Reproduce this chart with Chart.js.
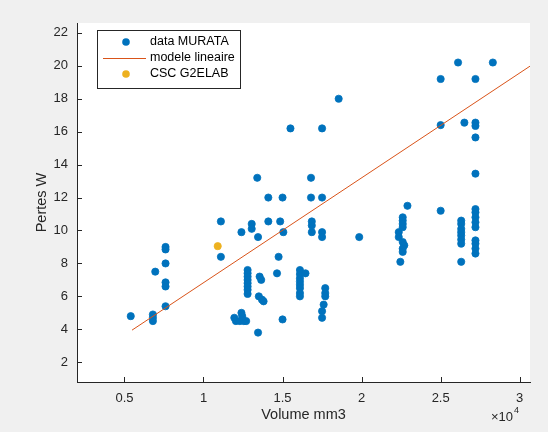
<!DOCTYPE html>
<html>
<head>
<meta charset="utf-8">
<script src="https://cdn.jsdelivr.net/npm/chart.js@4/dist/chart.umd.min.js"></script>
<style>
  html, body { margin: 0; padding: 0; background: #f0f0f0; }
  canvas { display: block; }
</style>
</head>
<body>
<canvas id="chart" width="548" height="432"></canvas>
<script>
// data MURATA: volume (mm3) and losses (W)
const muratX = [
  5400, 6800, 6800, 6800, 6950,
  7600, 7600, 7600, 7600, 7600, 7600,
  11100, 11100, 12400, 13050, 13050, 13450, 14100, 14850, 14750, 14650,
  13400, 14100, 15000, 16800, 17500, 16800,
  15500, 17500, 18550, 15050, 16850, 16850, 16850, 17500, 17500, 19850,
  12790, 12790, 12790, 12790, 12790, 12790, 12790, 12790,
  13550, 13650, 13500, 13700, 13800,
  11950, 12050, 12300, 12550, 12700, 12400, 12450, 13450, 15000,
  16100, 16100, 16100, 16100, 16100, 16100, 16100, 16100, 16450,
  17700, 17700, 17700, 17600, 17500, 17500,
  22900, 22600, 22600, 22600, 22600, 22350, 22350, 22600, 22700, 22600, 22600, 22450,
  26300, 26300, 26300, 26300, 26300, 26300, 26300, 26300,
  27200, 27200, 27200, 27200, 27200, 27200, 27200, 27200, 27200,
  26100, 28300, 25000, 27200, 25000, 26500, 27200, 27200, 27200, 27200, 25000
];
const muratY = [
  4.8, 4.9, 4.7, 4.5, 7.5,
  9.0, 8.85, 8.0, 6.85, 6.6, 5.4,
  10.55, 8.4, 9.9, 10.4, 10.1, 9.6, 10.55, 10.55, 8.4, 7.4,
  13.2, 12.0, 12.0, 12.0, 12.0, 13.2,
  16.2, 16.2, 18.0, 9.9, 10.55, 10.3, 9.9, 9.9, 9.6, 9.6,
  7.6, 7.4, 7.2, 7.0, 6.8, 6.6, 6.4, 6.15,
  7.2, 7.0, 6.0, 5.8, 5.7,
  4.7, 4.5, 4.5, 4.5, 4.5, 5.0, 4.8, 3.8, 4.6,
  7.6, 7.35, 7.1, 6.9, 6.7, 6.5, 6.2, 6.0, 7.4,
  6.5, 6.2, 6.0, 5.5, 5.1, 4.7,
  11.5, 10.8, 10.6, 10.4, 10.2, 9.9, 9.6, 9.3, 9.1, 8.9, 8.7, 8.1,
  10.6, 10.4, 10.1, 9.9, 9.7, 9.45, 9.2, 8.1,
  11.3, 11.1, 10.8, 10.5, 10.2, 9.4, 9.2, 8.9, 8.6,
  20.2, 20.2, 19.2, 19.2, 16.4, 16.55, 16.55, 16.35, 15.65, 13.45, 11.2
];
// linear model endpoints
const fitX = [5480, 30650];
const fitY = [3.95, 19.98];
// CSC G2ELAB
const cscX = [10900];
const cscY = [9.05];

const xTickVals = [5000, 10000, 15000, 20000, 25000, 30000];
const xTickLabels = ['0.5', '1', '1.5', '2', '2.5', '3'];
const yTickVals = [2, 4, 6, 8, 10, 12, 14, 16, 18, 20, 22];

const toPoints = (xs, ys) => xs.map((x, i) => ({ x: x, y: ys[i] }));

const FONT = '"Liberation Sans", Arial, Helvetica, sans-serif';
const AXIS_COLOR = '#262626';

const matlabLook = {
  id: 'matlabLook',
  beforeDraw(chart) {
    const { ctx, chartArea: a } = chart;
    ctx.save();
    ctx.fillStyle = '#ffffff';
    ctx.fillRect(a.left, a.top, a.right - a.left, a.bottom - a.top);
    ctx.restore();
  },
  afterDraw(chart) {
    const { ctx, chartArea: a, scales } = chart;
    ctx.save();
    // inward tick marks
    ctx.strokeStyle = AXIS_COLOR;
    ctx.lineWidth = 1;
    ctx.beginPath();
    xTickVals.forEach(v => {
      const px = Math.round(scales.x.getPixelForValue(v)) + 0.5;
      ctx.moveTo(px, a.bottom);
      ctx.lineTo(px, a.bottom - 5);
    });
    yTickVals.forEach(v => {
      const py = Math.round(scales.y.getPixelForValue(v)) + 0.5;
      ctx.moveTo(a.left, py);
      ctx.lineTo(a.left + 5, py);
    });
    ctx.stroke();

    // exponent label
    ctx.fillStyle = AXIS_COLOR;
    ctx.textBaseline = 'alphabetic';
    ctx.textAlign = 'right';
    ctx.font = '9px ' + FONT;
    ctx.fillText('4', a.right - 11, 413);
    ctx.font = '13px ' + FONT;
    ctx.fillText('\u00d710', a.right - 17, 421);

    // legend
    const lx = 97, ly = 30, lw = 143, lh = 58;
    ctx.fillStyle = '#ffffff';
    ctx.fillRect(lx, ly, lw, lh);
    ctx.strokeStyle = '#262626';
    ctx.strokeRect(lx + 0.5, ly + 0.5, lw, lh);
    const ds = chart.data.datasets;
    const rows = [ly + 12, ly + 28, ly + 44];
    ctx.font = '12.5px ' + FONT;
    ctx.textAlign = 'left';
    ctx.textBaseline = 'middle';
    [0, 1, 2].forEach(i => {
      const y = rows[i];
      const d = ds[i];
      if (d.showLine) {
        ctx.strokeStyle = d.borderColor;
        ctx.lineWidth = 1;
        ctx.beginPath();
        ctx.moveTo(lx + 6, y + 0.5);
        ctx.lineTo(lx + 49, y + 0.5);
        ctx.stroke();
      } else {
        ctx.fillStyle = d.backgroundColor;
        ctx.beginPath();
        ctx.arc(lx + 29, y, 3.8, 0, Math.PI * 2);
        ctx.fill();
      }
      ctx.fillStyle = '#000000';
      ctx.fillText(d.label, lx + 53, y);
    });
    ctx.restore();
  }
};

new Chart(document.getElementById('chart'), {
  type: 'scatter',
  data: {
    datasets: [
      {
        label: 'data MURATA',
        data: toPoints(muratX, muratY),
        backgroundColor: '#0072BD',
        borderColor: '#0072BD',
        pointRadius: 3.6,
        borderWidth: 0.8,
        order: 3
      },
      {
        label: 'modele lineaire',
        data: toPoints(fitX, fitY),
        showLine: true,
        borderColor: '#D95319',
        backgroundColor: '#D95319',
        borderWidth: 1,
        pointRadius: 0,
        order: 2
      },
      {
        label: 'CSC G2ELAB',
        data: toPoints(cscX, cscY),
        backgroundColor: '#EDB120',
        borderColor: '#EDB120',
        pointRadius: 3.6,
        borderWidth: 0.8,
        order: 1
      }
    ]
  },
  options: {
    responsive: false,
    animation: false,
    layout: { padding: { left: 0, right: 18, top: 23, bottom: 0 } },
    plugins: {
      legend: { display: false },
      tooltip: { enabled: false }
    },
    scales: {
      x: {
        type: 'linear',
        min: 2000,
        max: 30650,
        afterBuildTicks: axis => { axis.ticks = xTickVals.map(v => ({ value: v })); },
        afterFit: scale => { scale.height = 50; },
        grid: { display: false, drawTicks: false },
        border: { display: true, color: AXIS_COLOR, width: 1 },
        ticks: {
          color: AXIS_COLOR,
          font: { family: FONT, size: 13 },
          padding: 9,
          maxRotation: 0,
          callback: v => xTickLabels[xTickVals.indexOf(v)]
        },
        title: {
          display: true,
          text: 'Volume mm3',
          color: AXIS_COLOR,
          font: { family: FONT, size: 14.5 },
          padding: { top: 0, bottom: 8 }
        }
      },
      y: {
        type: 'linear',
        min: 0.8,
        max: 22.6,
        afterBuildTicks: axis => { axis.ticks = yTickVals.map(v => ({ value: v })); },
        afterFit: scale => { scale.width = 77; },
        grid: { display: false, drawTicks: false },
        border: { display: true, color: AXIS_COLOR, width: 1 },
        ticks: {
          color: AXIS_COLOR,
          font: { family: FONT, size: 13 },
          padding: 9,
          callback: v => String(v)
        },
        title: {
          display: true,
          text: 'Pertes W',
          color: AXIS_COLOR,
          font: { family: FONT, size: 14.5 },
          padding: { top: 33, bottom: 0 }
        }
      }
    }
  },
  plugins: [matlabLook]
});
</script>
</body>
</html>
